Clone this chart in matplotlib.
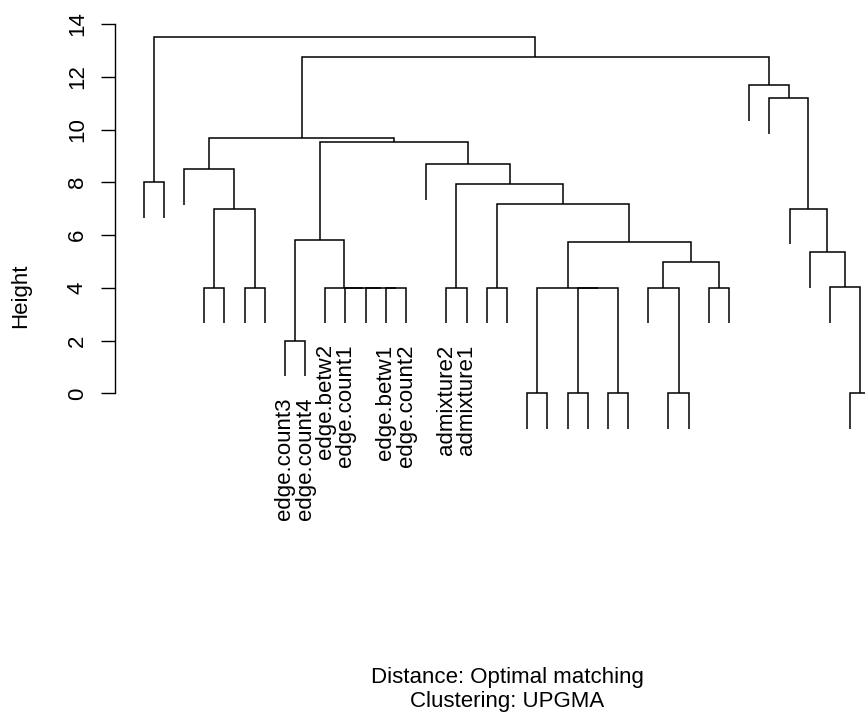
import numpy as np
import matplotlib
matplotlib.use('Agg')
import matplotlib.pyplot as plt

plt.rcParams['font.family'] = ['Liberation Sans', 'DejaVu Sans']

# leaf labels in display order (most leaves are unlabelled in the original)
leaf_labels = [''] * 7 + ['edge.count3', 'edge.count4', 'edge.betw2', 'edge.count1', '',
                          'edge.betw1', 'edge.count2', '', 'admixture2', 'admixture1'] + [''] * 20

# merge table, R style: negative = leaf (display position), positive = earlier merge step
merges = [
    (-20, -21), (-22, -23), (-24, -25), (-27, -28), (-36, -37),
    (-8, -9),
    (-4, -5), (-6, -7), (-13, -14), (-12, 9), (-11, 10), (-10, 11),
    (-16, -17), (-18, -19), (2, 3), (1, 15), (-26, 4), (-29, -30), (-35, 5),
    (17, 18), (-34, 19), (16, 20), (6, 12), (-33, 21), (7, 8), (14, 22),
    (13, 26), (-1, -2), (-3, 25), (-15, 27), (23, 30), (29, 31),
    (-32, 24), (-31, 33), (32, 34), (28, 35),
]
heights = [
    0, 0, 0, 0, 0,
    2,
    4, 4, 4, 4, 4, 4,
    4, 4, 4, 4, 4, 4, 4.02,
    4.99, 5.35, 5.72, 5.81, 7.0, 7.0, 7.18,
    7.93, 8.0, 8.49, 8.68, 9.54, 9.67,
    11.19, 11.67, 12.76, 13.52,
]

hang = 0.1 * max(heights)

fig = plt.figure(figsize=(8.65, 7.19), dpi=100)
ax = fig.add_axes([115 / 865, 1 - 432.9 / 719, 750 / 865, (432.9 - 16.1) / 719])

# x position of each merge = mean of its two children
pos = {}
for k, (a, b) in enumerate(merges, start=1):
    xa = -a if a < 0 else pos[a]
    xb = -b if b < 0 else pos[b]
    pos[k] = (xa + xb) / 2

for k, (a, b) in enumerate(merges, start=1):
    h = heights[k - 1]
    xa = -a if a < 0 else pos[a]
    xb = -b if b < 0 else pos[b]
    ya = h - hang if a < 0 else heights[a - 1]
    yb = h - hang if b < 0 else heights[b - 1]
    ax.plot([xa, xa, xb, xb], [ya, h, h, yb], color='black', lw=1.1,
            solid_capstyle='butt', solid_joinstyle='miter')
    for c in (a, b):
        if c < 0 and leaf_labels[-c - 1]:
            ax.annotate(leaf_labels[-c - 1], (-c, h - hang), xytext=(0, -15),
                        textcoords='offset points', rotation=90, ha='center',
                        va='top', fontsize=16, annotation_clip=False)

ax.set_xlim(-0.42, 36.74)
ax.set_ylim(-1.5, 14.3)
ax.set_xticks([])
ax.set_yticks(np.arange(0, 15, 2))
ax.tick_params(axis='y', length=10, width=1, pad=9.5, labelsize=16)
for lab in ax.get_yticklabels():
    lab.set_rotation(90)
    lab.set_va('center')
for s in ['top', 'right', 'bottom']:
    ax.spines[s].set_visible(False)
ax.spines['left'].set_bounds(0, 14)
ax.spines['left'].set_linewidth(1)
ax.patch.set_visible(False)

fig.text(21 / 865, 1 - 296 / 719, 'Height', rotation=90, ha='center', va='center', fontsize=16)
fig.text(507 / 865, 1 - 678 / 719, 'Distance: Optimal matching', ha='center', va='center', fontsize=16)
fig.text(507 / 865, 1 - 701 / 719, 'Clustering: UPGMA', ha='center', va='center', fontsize=16)

fig.savefig('out.png', dpi=100)
